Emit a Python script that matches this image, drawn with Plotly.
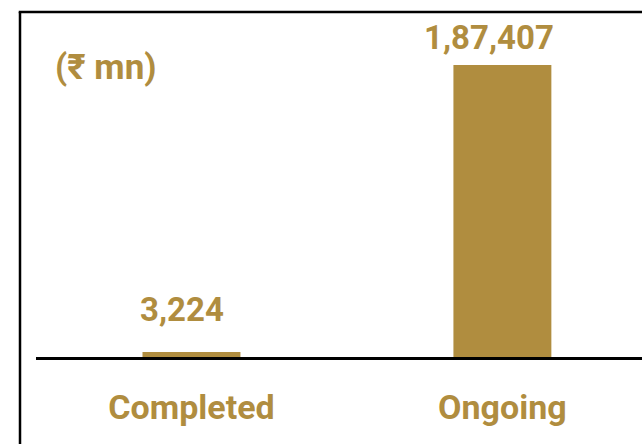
import plotly.graph_objects as go

categories = ["Completed", "Ongoing"]
values = [3224, 187407]
unit_label = "(₹ mn)"

GOLD = "#B08D3F"
FONT = "Roboto"


def indian_format(n):
    s = str(int(n))
    if len(s) <= 3:
        return s
    head, tail = s[:-3], s[-3:]
    groups = []
    while len(head) > 2:
        groups.insert(0, head[-2:])
        head = head[:-2]
    if head:
        groups.insert(0, head)
    return ",".join(groups) + "," + tail


labels = [indian_format(v) for v in values]
label_yshift = [21, 6]
label_xshift = [-9, -13]

fig = go.Figure(
    go.Bar(
        x=categories,
        y=values,
        width=0.315,
        marker=dict(color=GOLD, line=dict(width=0)),
        hoverinfo="skip",
    )
)

for c, v, t, ys, xs in zip(categories, values, labels, label_yshift, label_xshift):
    fig.add_annotation(
        x=c, y=v, text=t, showarrow=False, yanchor="bottom",
        yshift=ys, xshift=xs,
        font=dict(family=FONT, size=33, color=GOLD, weight="bold"),
    )

fig.add_annotation(
    xref="paper", yref="paper", x=0.1155, y=0.8377, text=unit_label,
    showarrow=False, xanchor="center", yanchor="middle",
    font=dict(family=FONT, size=35, color=GOLD, weight="bold"),
)

# frame lines (left and top)
fig.add_shape(type="line", xref="paper", yref="paper",
              x0=-0.0264, x1=-0.0264, y0=1.0, y1=-0.3,
              line=dict(color="black", width=2.5))
fig.add_shape(type="line", xref="paper", yref="paper",
              x0=-0.0285, x1=1.02, y0=1.0, y1=1.0,
              line=dict(color="black", width=2.5))

fig.update_layout(
    width=642, height=444,
    margin=dict(l=36, r=0, t=12, b=87),
    paper_bgcolor="white", plot_bgcolor="white",
    showlegend=False,
    hovermode=False,
    xaxis=dict(
        range=[-0.5, 1.449],
        showline=True, linecolor="black", linewidth=3,
        showgrid=False, zeroline=False, ticks="",
        tickfont=dict(family=FONT, size=34, color=GOLD, weight="bold"),
        ticklabelstandoff=18,
    ),
    yaxis=dict(
        range=[0, 221420],
        visible=False, showgrid=False, zeroline=False,
    ),
)

fig.write_html(
    "out.html",
    config={"displayModeBar": False, "staticPlot": True},
    post_script="document.body.style.margin='0';document.body.style.overflow='hidden';",
)
